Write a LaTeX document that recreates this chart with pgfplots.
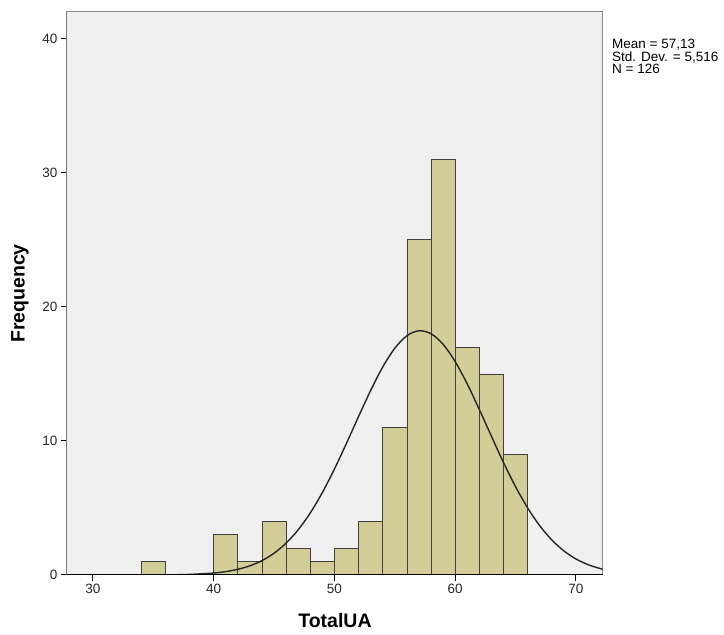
\documentclass[border=0pt]{standalone}
\usepackage{pgfplots}
\pgfplotsset{compat=1.18}
\usepackage{fontspec}
\setmainfont{Liberation Sans}
\definecolor{plotbg}{HTML}{F0F0F0}
\definecolor{barfill}{HTML}{D3CE97}
\definecolor{frame}{HTML}{8A8A8A}
\begin{document}
\begin{tikzpicture}
\begin{axis}[
    scale only axis,
    width=536pt, height=563pt,
    xmin=27.85, xmax=72.24,
    ymin=0, ymax=42,
    axis background/.style={fill=plotbg},
    axis line style={frame, line width=1pt},
    xtick={30,40,50,60,70},
    ytick={0,10,20,30,40},
    xtick pos=bottom, ytick pos=left,
    tick align=outside,
    major tick length=6pt,
    tick style={black, line width=1pt},
    ticklabel style={font=\fontsize{13.5}{13.5}\selectfont, text=black!85},
    /pgf/number format/assume math mode=true,
    xlabel={\bfseries TotalUA},
    ylabel={\bfseries Frequency},
    label style={font=\fontsize{19.5}{19.5}\selectfont},
    xlabel style={yshift=-12pt},
    ylabel style={yshift=7pt},
    clip=true,
]
% histogram, bins of width 2 (last point closes the interval)
\addplot[ybar interval, fill=barfill, draw=black!75, line width=0.8pt] coordinates {
    (34,1) (36,0) (38,0) (40,3) (42,1) (44,4) (46,2) (48,1) (50,2)
    (52,4) (54,11) (56,25) (58,31) (60,17) (62,15) (64,9) (66,9)
};
% fitted normal curve
\addplot[smooth, black!85, line width=1.4pt] coordinates {
    (27.85,0) (32,0.001) (36,0.012) (38,0.045) (40,0.147) (41,0.254)
    (42,0.424) (43,0.685) (44,1.072) (45,1.624) (46,2.380) (47,3.376)
    (48,4.633) (49,6.151) (50,7.905) (51,9.830) (52,11.83) (53,13.77)
    (54,15.52) (55,16.92) (56,17.85) (57,18.22) (58,18.00) (59,17.21)
    (60,15.92) (61,14.25) (62,12.34) (63,10.35) (64,8.39) (65,6.587)
    (66,5.003) (67,3.676) (68,2.615) (69,1.799) (70,1.198) (71,0.772)
    (72,0.482) (72.24,0.428)
};
\draw[black, line width=1pt] (rel axis cs:0,1) -- (rel axis cs:0,0) -- (rel axis cs:1,0);
\end{axis}
\node[anchor=north west, align=left, inner sep=0pt,
      font=\fontsize{13.5}{10.5}\selectfont]
  at ([xshift=9pt,yshift=-27pt]current axis.north east)
  {Mean = 57,13\\Std. Dev. = 5,516\\N = 126};
\pgfresetboundingbox
\path ([xshift=-67pt,yshift=-60pt]current axis.south west) rectangle ++(724pt,635pt);
\end{tikzpicture}
\end{document}
